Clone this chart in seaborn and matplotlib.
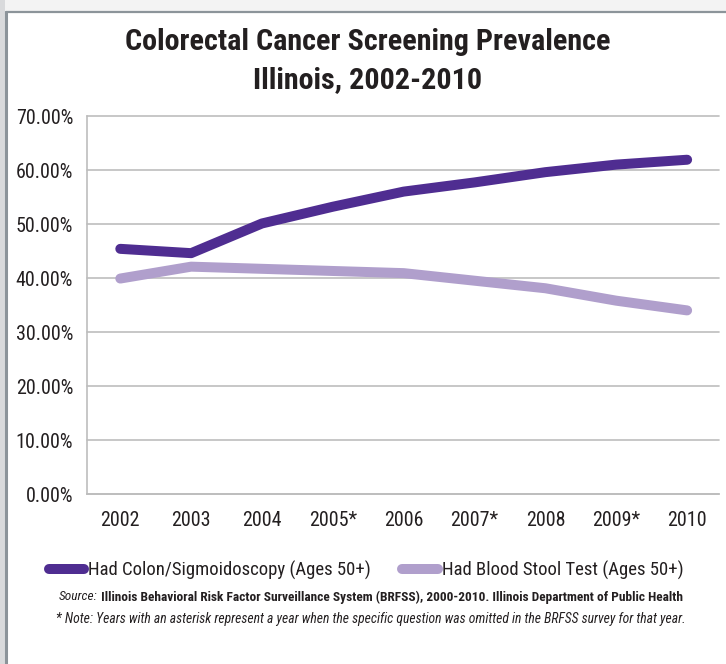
import matplotlib
matplotlib.use("Agg")
import matplotlib.pyplot as plt
import seaborn as sns
import pandas as pd
from matplotlib.patches import Rectangle
from matplotlib.lines import Line2D
from matplotlib import font_manager as fm
from matplotlib.font_manager import FontProperties

years = ["2002", "2003", "2004", "2005*", "2006", "2007*", "2008", "2009*", "2010"]
colon = [45.4, 44.6, 50.1, 53.2, 56.0, 57.7, 59.6, 61.0, 61.9]
stool = [39.9, 42.1, 41.7, 41.3, 40.9, 39.5, 38.1, 35.8, 34.0]
series_names = ["Had Colon/Sigmoidoscopy (Ages 50+)", "Had Blood Stool Test (Ages 50+)"]
yticks = [0, 10, 20, 30, 40, 50, 60, 70]
title_lines = ["Colorectal Cancer Screening Prevalence", "Illinois, 2002-2010"]
source_label = "Source:"
source_text = " Illinois Behavioral Risk Factor Surveillance System (BRFSS), 2000-2010. Illinois Department of Public Health"
note_text = "* Note: Years with an asterisk represent a year when the specific question was omitted in the BRFSS survey for that year."

sns.set_theme(style="white")

W, H = 726, 664
fig = plt.figure(figsize=(W / 100, H / 100), dpi=100)
fig.patch.set_facecolor("white")
renderer = fig.canvas.get_renderer()

def measure(prop, s):
    w, h, d = renderer.get_text_width_height_descent(s, prop, ismath=False)
    return w, h - d

def wnum(w):
    if isinstance(w, int):
        return w
    return {"bold": 700, "normal": 400, "regular": 400, "medium": 500, "semibold": 600,
            "demibold": 600, "light": 300, "heavy": 800, "black": 900, "book": 400}.get(str(w).lower(), 400)

# ---- choose among the standard sans families the one closest to the condensed reference font ----
BASES = ["Liberation Sans", "DejaVu Sans", "Noto Sans", "Roboto", "Open Sans", "Lato", "Inter"]
def allowed(name):
    for b in BASES:
        if name == b:
            return True
        if name.startswith(b + " "):
            rest = name[len(b) + 1:]
            if ("Cond" in rest or "Narrow" in rest) and "Mono" not in rest:
                return True
    return False

ttf = [f for f in fm.fontManager.ttflist if allowed(f.name)]
groups = {}
for f in ttf:
    groups.setdefault((f.name, str(f.stretch)), []).append(f)

target_ratio = 37.7 / 18.0   # width of "2002" / digit height in the reference
best_key, best_err = ("DejaVu Sans", "normal"), 1e9
for key, fs in groups.items():
    regs = [f for f in fs if f.style == "normal" and 350 <= wnum(f.weight) <= 450]
    if not regs:
        continue
    p = FontProperties(fname=regs[0].fname, size=20)
    try:
        w, h = measure(p, "2002")
    except Exception:
        continue
    if h <= 0:
        continue
    err = abs(w / h - target_ratio)
    if err < best_err:
        best_key, best_err = key, err

def find_file(style, weight):
    name, stretch = best_key
    cands = []
    for (n, st), fs in groups.items():
        if st == stretch and (n == name or n.startswith(name + " ")):
            cands += fs
    best, score = None, 1e9
    for f in cands:
        s = abs(wnum(f.weight) - weight) + (0 if f.style == style else 1000) + (0 if f.name == name else 5)
        if s < score:
            best, score = f, s
    return best

def fp(style, weight):
    f = find_file(style, weight)
    if f is None:
        return FontProperties(family="DejaVu Sans", style=style, weight=weight)
    return FontProperties(fname=f.fname)

FP_REG = fp("normal", 400)
FP_BOLD = fp("normal", 700)
FP_IT = fp("italic", 400)

def fit(prop, s, target_px, max_pt=40):
    p = prop.copy()
    p.set_size(10)
    w, h = measure(p, s)
    p.set_size(min(max_pt, 10 * target_px / w))
    return p

# frame decoration
fig.patches.append(Rectangle((0, 1 - 12 / H), 1, 12 / H, transform=fig.transFigure,
                             facecolor="#F3F3F3", edgecolor="none", zorder=0))
fig.patches.append(Rectangle((0, 0), 5 / W, 1, transform=fig.transFigure,
                             facecolor="#D9DADC", edgecolor="none", zorder=0))
fig.lines.append(Line2D([5.5 / W, 1], [1 - 12.3 / H, 1 - 12.3 / H], transform=fig.transFigure,
                        color="#8C949A", lw=1.6))
fig.lines.append(Line2D([6 / W, 6 / W], [0, 1 - 12.3 / H], transform=fig.transFigure,
                        color="#8C949A", lw=2.2))

ax = fig.add_axes([87 / W, 1 - 494 / H, (719 - 87) / W, (494 - 116) / H])
palette = {series_names[0]: "#4F2D91", series_names[1]: "#B09FCC"}
df = pd.DataFrame({
    "Pos": list(range(len(years))) * 2,
    "Value": colon + stool,
    "Series": [series_names[0]] * len(years) + [series_names[1]] * len(years),
})
sns.lineplot(data=df, x="Pos", y="Value", hue="Series", palette=palette, ax=ax,
             lw=7.2, legend=False, solid_capstyle="round", solid_joinstyle="round", zorder=3)

ax.set_xlim(-0.47, 8.45)
ax.set_ylim(0, 70)
ax.set_yticks(yticks)
ax.set_xticks(range(len(years)))
p_tick = fit(FP_REG, "0.00%", 47, 19)
ax.set_yticklabels([f"{v:.2f}%" for v in yticks], fontproperties=p_tick, color="#231F20")
ax.set_xticklabels(years, fontproperties=p_tick, color="#231F20")
ax.set_xlabel("")
ax.set_ylabel("")
ax.tick_params(axis="both", length=0)
ax.tick_params(axis="y", pad=10)
ax.tick_params(axis="x", pad=12)
ax.yaxis.grid(True, color="#BDBDBD", lw=1.2)
for g in ax.get_ygridlines():
    g.set_clip_on(False)
ax.set_axisbelow(True)
for s in ["top", "right"]:
    ax.spines[s].set_visible(False)
for s in ["left", "bottom"]:
    ax.spines[s].set_color("#BDBDBD")
    ax.spines[s].set_linewidth(1.2)

# title
p_title = fit(FP_BOLD, title_lines[0], 484, 26)
fig.text(368 / W, 1 - 42 / H, title_lines[0], ha="center", va="center",
         fontproperties=p_title, color="#231F20")
fig.text(368 / W, 1 - 80 / H, title_lines[1], ha="center", va="center",
         fontproperties=p_title, color="#231F20")

# legend
p_leg = fit(FP_REG, series_names[0], 282, 19)
handles = [Line2D([], [], color=palette[n], lw=7.2, solid_capstyle="round") for n in series_names]
fig.legend(handles, series_names, loc="center", bbox_to_anchor=(366 / W, 1 - 570 / H), ncol=2,
           frameon=False, prop=p_leg, handlelength=1.9, handletextpad=0.2, columnspacing=1.7,
           labelcolor="#231F20")

# source notes
p_note = fit(FP_IT, note_text, 629, 13)
p_src_b = fit(FP_BOLD, source_label + source_text, 629, 13)
p_src_i = FP_IT.copy()
p_src_i.set_size(p_src_b.get_size())
t1 = fig.text(0, 1 - 597 / H, source_label, ha="left", va="center",
              fontproperties=p_src_i, color="#231F20")
t2 = fig.text(0, 1 - 597 / H, source_text, ha="left", va="center",
              fontproperties=p_src_b, color="#231F20")
fig.text(371 / W, 1 - 619 / H, note_text, ha="center", va="center",
         fontproperties=p_note, color="#231F20")

fig.canvas.draw()
w1 = t1.get_window_extent(renderer).width
w2 = t2.get_window_extent(renderer).width
start = 371 - (w1 + w2) / 2
t1.set_x(start / W)
t2.set_x((start + w1) / W)

fig.savefig("out.png", dpi=100, facecolor="white")
